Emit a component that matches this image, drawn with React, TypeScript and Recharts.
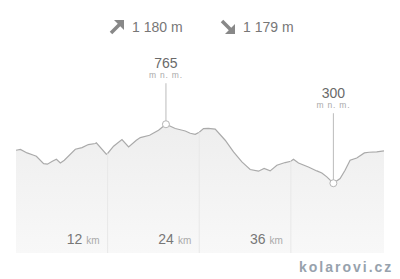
import React from 'react';
import {
  AreaChart,
  Area,
  XAxis,
  YAxis,
  ReferenceLine,
  ReferenceDot,
} from 'recharts';

// profile: distance (km) and elevation (m n. m.)
const distances = [
  0, 0.58, 1.45, 2.32, 2.67, 3.62, 4.11, 4.76, 5.29, 5.81, 6.33, 7.77, 8.65, 9.47,
  10.39, 10.52, 11.83, 12, 12.78, 13.88, 14.75, 15.76, 16.28, 17.5, 18.02, 18.67,
  19.64, 20.86, 22.17, 22.82, 23.47, 24, 24.56, 25.18, 26.09, 27.4, 28.49, 29.59,
  30.67, 31.76, 32.5, 33.29, 34.17, 35.25, 36, 36.34, 37, 38.3, 39.4, 40.06, 40.71,
  41.57, 42.45, 43.1, 43.76, 44.63, 45.63, 46.24, 47.25, 48.2,
];
const elevations = [
  560, 566, 539, 521, 513, 455, 450, 473, 489, 460, 481, 568, 581, 605,
  613, 618, 529, 535, 592, 644, 586, 639, 660, 678, 696, 718,
  765, 731, 712, 694, 686, 702, 731, 733, 726, 639, 547, 468,
  408, 395, 416, 397, 442, 463, 473, 489, 460, 428, 397, 381, 350,
  300, 337, 402, 481, 499, 539, 544, 547, 555,
];
const distanceTicks = [12, 24, 36];
const ascent = '1 180 m';
const descent = '1 179 m';
const unitLabel = 'm n. m.';
const peakDistance = 19.64;
const peakElevation = 765;
const lowDistance = 41.57;
const lowElevation = 300;

const Y_MIN = -250;
const Y_MAX = 1500;
const FONT = 'Arial, "Liberation Sans", sans-serif';

const data = distances.map((km, i) => ({ km, elev: elevations[i] }));

function elevationAt(km: number): number {
  for (let i = 1; i < distances.length; i++) {
    if (distances[i] >= km) {
      const t = (km - distances[i - 1]) / (distances[i] - distances[i - 1]);
      return elevations[i - 1] + t * (elevations[i] - elevations[i - 1]);
    }
  }
  return elevations[elevations.length - 1];
}

function KmTick(props: any) {
  const { x, y, payload } = props;
  return (
    <text x={x - 8} y={y - 17} textAnchor="end" fontFamily={FONT}>
      <tspan fontSize={14} fill="#777777">{payload.value}</tspan>
      <tspan fontSize={10} fill="#aaaaaa" dx={4}>km</tspan>
    </text>
  );
}

function markerShape(value: number, stem: number) {
  return (props: any) => {
    const { cx, cy } = props;
    const top = cy - stem;
    return (
      <g>
        <line x1={cx} y1={top} x2={cx} y2={cy} stroke="#bbbbbb" strokeWidth={1} />
        <circle cx={cx} cy={cy} r={3.5} fill="#ffffff" stroke="#b5b5b5" strokeWidth={1} />
        <text x={cx} y={top - 15} textAnchor="middle" fontFamily={FONT} fontSize={14} fill="#6a6a6a">
          {value}
        </text>
        <text
          x={cx}
          y={top - 5}
          textAnchor="middle"
          fontFamily={FONT}
          fontSize={8.5}
          letterSpacing={0.8}
          fill="#aaaaaa"
        >
          {unitLabel}
        </text>
      </g>
    );
  };
}

function Arrow({ up }: { up: boolean }) {
  return (
    <svg width={16} height={16} viewBox="0 0 16 16" style={{ display: 'block' }}>
      {up ? (
        <g fill="#888888" stroke="#888888">
          <polygon points="5,1 15,1 15,11" strokeWidth={0} />
          <line x1={2} y1={14} x2={11} y2={5} strokeWidth={3.5} />
        </g>
      ) : (
        <g fill="#888888" stroke="#888888">
          <polygon points="15,5 15,15 5,15" strokeWidth={0} />
          <line x1={2} y1={2} x2={11} y2={11} strokeWidth={3.5} />
        </g>
      )}
    </svg>
  );
}

export default function App() {
  const textStyle: React.CSSProperties = {
    position: 'absolute',
    top: 18,
    fontFamily: FONT,
    fontSize: 14,
    color: '#777777',
    lineHeight: '18px',
  };
  return (
    <div style={{ position: 'absolute', left: 0, top: 0, width: 400, height: 279, background: '#ffffff' }}>
      <div style={{ position: 'absolute', left: 109, top: 19 }}>
        <Arrow up />
      </div>
      <div style={{ ...textStyle, left: 132 }}>{ascent}</div>
      <div style={{ position: 'absolute', left: 220, top: 19 }}>
        <Arrow up={false} />
      </div>
      <div style={{ ...textStyle, left: 243 }}>{descent}</div>

      <AreaChart
        width={400}
        height={279}
        data={data}
        margin={{ top: 31, right: 16, bottom: 0, left: 16 }}
      >
        <defs>
          <linearGradient id="profileFill" x1="0" y1="0" x2="0" y2="1">
            <stop offset="0%" stopColor="#eeeeee" />
            <stop offset="100%" stopColor="#f8f8f8" />
          </linearGradient>
        </defs>
        <XAxis
          dataKey="km"
          type="number"
          domain={[0, 48.2]}
          ticks={distanceTicks}
          axisLine={false}
          tickLine={false}
          height={26}
          tick={<KmTick />}
        />
        <YAxis hide domain={[Y_MIN, Y_MAX]} allowDataOverflow />
        <Area
          type="linear"
          dataKey="elev"
          stroke="#aaaaaa"
          strokeWidth={1.2}
          fill="url(#profileFill)"
          fillOpacity={1}
          baseValue={Y_MIN}
          dot={false}
          activeDot={false}
          isAnimationActive={false}
        />
        {distanceTicks.map((km) => (
          <ReferenceLine
            key={km}
            segment={[
              { x: km, y: Y_MIN },
              { x: km, y: elevationAt(km) },
            ]}
            stroke="#e8e8e8"
            strokeWidth={1}
          />
        ))}
        <ReferenceDot
          x={peakDistance}
          y={peakElevation}
          r={3.5}
          shape={markerShape(peakElevation, 41)}
        />
        <ReferenceDot
          x={lowDistance}
          y={lowElevation}
          r={3.5}
          shape={markerShape(lowElevation, 70)}
        />
      </AreaChart>

      <div
        style={{
          position: 'absolute',
          left: 299,
          top: 259,
          fontFamily: FONT,
          fontSize: 14,
          fontWeight: 'bold',
          letterSpacing: 2,
          color: '#97a2ad',
          lineHeight: '16px',
        }}
      >
        kolarovi.cz
      </div>
    </div>
  );
}
